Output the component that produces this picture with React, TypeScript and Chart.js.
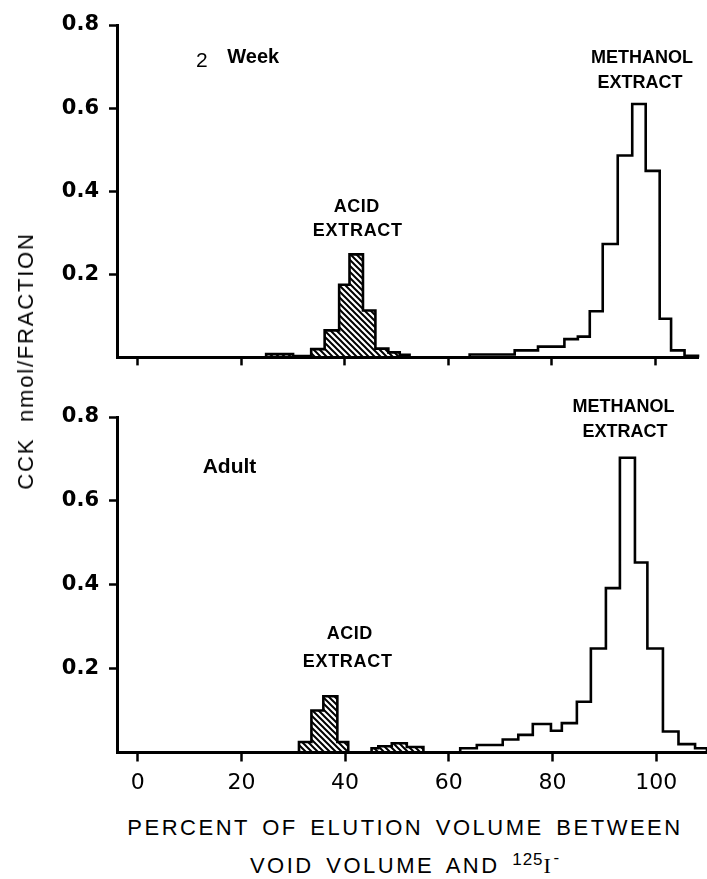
import React, { useEffect, useRef } from 'react';
import { Chart, registerables } from 'chart.js';

Chart.register(...registerables);

// ---------- data ----------
const X_TICKS = [0, 20, 40, 60, 80, 100];
const X_TICK_LABELS = ['0', '20', '40', '60', '80', '100'];
const Y_TICKS = [0.2, 0.4, 0.6, 0.8];
const Y_TICK_LABELS = ['0.2', '0.4', '0.6', '0.8'];

// 2 Week panel (bin edges in % elution volume, values in CCK nmol/fraction)
const WEEK2_ACID_EDGES = [24.8, 30.0, 33.5, 36.1, 38.9, 40.9, 43.5, 45.9, 48.4, 50.6, 52.5];
const WEEK2_ACID_VALUES = [0.008, 0.003, 0.02, 0.065, 0.175, 0.248, 0.113, 0.021, 0.012, 0.006];
const WEEK2_METHANOL_EDGES = [64.1, 72.8, 77.3, 82.4, 85.0, 87.3, 89.8, 92.7, 95.5, 98.1, 100.8, 103.0, 105.6, 108.2];
const WEEK2_METHANOL_VALUES = [0.007, 0.017, 0.026, 0.044, 0.05, 0.111, 0.273, 0.486, 0.61, 0.449, 0.093, 0.017, 0.004];

// Adult panel
const ADULT_ACID_EDGES = [31.1, 33.5, 35.8, 38.5, 40.6];
const ADULT_ACID_VALUES = [0.025, 0.1, 0.134, 0.025];
const ADULT_ACID2_EDGES = [45.1, 46.4, 49.0, 51.9, 55.1];
const ADULT_ACID2_VALUES = [0.01, 0.015, 0.022, 0.013];
const ADULT_METHANOL_EDGES = [62.2, 65.4, 70.4, 73.4, 76.2, 79.7, 81.8, 84.7, 87.4, 90.3, 93.0, 95.9, 98.3, 101.3, 104.3, 107.5, 109.8];
const ADULT_METHANOL_VALUES = [0.010, 0.018, 0.031, 0.042, 0.068, 0.052, 0.07, 0.121, 0.248, 0.392, 0.703, 0.453, 0.248, 0.05, 0.02, 0.01];

// annotation texts
const WEEK2_NOTES = [
  { text: '2', x: 12.4, y: 0.699, font: 'normal 21px "Liberation Sans"', spacing: 0 },
  { text: 'Week', x: 22.3, y: 0.708, font: 'bold 20px "Liberation Sans"', spacing: 0 },
  { text: 'ACID', x: 42.3, y: 0.35, font: 'bold 18px "Liberation Sans"', spacing: 0.5 },
  { text: 'EXTRACT', x: 42.5, y: 0.292, font: 'bold 18px "Liberation Sans"', spacing: 0.7 },
  { text: 'METHANOL', x: 97.4, y: 0.709, font: 'bold 18px "Liberation Sans"', spacing: 0 },
  { text: 'EXTRACT', x: 97.0, y: 0.649, font: 'bold 18px "Liberation Sans"', spacing: 0 },
];
const ADULT_NOTES = [
  { text: 'Adult', x: 17.7, y: 0.666, font: 'bold 21px "Liberation Sans"', spacing: 0 },
  { text: 'ACID', x: 40.9, y: 0.271, font: 'bold 18px "Liberation Sans"', spacing: 0.5 },
  { text: 'EXTRACT', x: 40.5, y: 0.204, font: 'bold 18px "Liberation Sans"', spacing: 0.7 },
  { text: 'METHANOL', x: 93.7, y: 0.812, font: 'bold 18px "Liberation Sans"', spacing: 0 },
  { text: 'EXTRACT', x: 94.0, y: 0.752, font: 'bold 18px "Liberation Sans"', spacing: 0 },
];

// ---------- helpers ----------
function histPoints(edges: number[], values: number[]) {
  const pts: { x: number; y: number }[] = [{ x: edges[0], y: 0 }];
  values.forEach((v, i) => {
    pts.push({ x: edges[i], y: v });
    pts.push({ x: edges[i + 1], y: v });
  });
  pts.push({ x: edges[edges.length - 1], y: 0 });
  return pts;
}

function makeHatch(): CanvasPattern | string {
  const s = 6;
  const c = document.createElement('canvas');
  c.width = s;
  c.height = s;
  const g = c.getContext('2d');
  if (!g) return '#888';
  g.strokeStyle = '#000';
  g.lineWidth = 2;
  g.beginPath();
  for (const k of [-1, 0, 1]) {
    g.moveTo(k * s - s, -s);
    g.lineTo(k * s + 2 * s, 2 * s);
  }
  g.stroke();
  const p = g.createPattern(c, 'repeat');
  return p || '#888';
}

function notesPlugin(notes: typeof WEEK2_NOTES) {
  return {
    id: 'notes',
    afterDraw(chart: any) {
      const ctx = chart.ctx;
      const xs = chart.scales.x;
      const ys = chart.scales.y;
      ctx.save();
      ctx.fillStyle = '#000';
      ctx.textAlign = 'center';
      ctx.textBaseline = 'alphabetic';
      for (const n of notes) {
        ctx.font = n.font;
        try { (ctx as any).letterSpacing = n.spacing + 'px'; } catch (e) { /* ignore */ }
        ctx.fillText(n.text, xs.getPixelForValue(n.x), ys.getPixelForValue(n.y));
      }
      ctx.restore();
    },
  };
}

function lineDs(pts: { x: number; y: number }[], fill: any) {
  return {
    data: pts,
    borderColor: '#000',
    borderWidth: 2.6,
    pointRadius: 0,
    tension: 0,
    fill: fill ? 'origin' : false,
    backgroundColor: fill || 'rgba(0,0,0,0)',
    clip: false,
  };
}

function buildConfig(opts: {
  datasets: any[];
  xMax: number;
  padRight: number;
  xAxisHeight: number;
  showXLabels: boolean;
  tickLen: number;
  notes: typeof WEEK2_NOTES;
}) {
  return {
    type: 'line',
    data: { datasets: opts.datasets },
    options: {
      responsive: false,
      animation: false,
      devicePixelRatio: 1,
      layout: { padding: { top: 25, right: opts.padRight, left: 0, bottom: 0 } },
      plugins: { legend: { display: false }, tooltip: { enabled: false } },
      scales: {
        x: {
          type: 'linear',
          min: -4,
          max: opts.xMax,
          afterBuildTicks: (s: any) => {
            s.ticks = X_TICKS.map((v) => ({ value: v }));
          },
          afterFit: (s: any) => {
            s.height = opts.xAxisHeight;
          },
          grid: {
            display: true,
            drawOnChartArea: false,
            drawTicks: true,
            tickLength: opts.tickLen,
            tickWidth: 2.5,
            tickColor: '#000',
            color: '#000',
          },
          border: { display: true, color: '#000', width: 3 },
          ticks: {
            display: opts.showXLabels,
            padding: 9,
            color: '#000',
            font: { family: '"DejaVu Sans"', size: 22, weight: 'normal' },
            callback: (_v: any, i: number) => X_TICK_LABELS[i],
          },
        },
        y: {
          type: 'linear',
          min: 0,
          max: 0.8,
          afterBuildTicks: (s: any) => {
            s.ticks = Y_TICKS.map((v) => ({ value: v }));
          },
          afterFit: (s: any) => {
            s.width = 117;
          },
          grid: {
            display: true,
            drawOnChartArea: false,
            drawTicks: true,
            tickLength: 8,
            tickWidth: 2.5,
            tickColor: '#000',
            color: '#000',
          },
          border: { display: true, color: '#000', width: 3 },
          ticks: {
            padding: 10,
            color: '#000',
            font: { family: '"DejaVu Sans"', size: 21, weight: 'bold' },
            callback: (_v: any, i: number) => Y_TICK_LABELS[i],
          },
        },
      },
    },
    plugins: [notesPlugin(opts.notes)],
  };
}

export default function App() {
  const topRef = useRef<HTMLCanvasElement>(null);
  const botRef = useRef<HTMLCanvasElement>(null);

  useEffect(() => {
    const hatch = makeHatch();
    const top = new Chart(
      topRef.current as HTMLCanvasElement,
      buildConfig({
        datasets: [
          lineDs(histPoints(WEEK2_ACID_EDGES, WEEK2_ACID_VALUES), hatch),
          lineDs(histPoints(WEEK2_METHANOL_EDGES, WEEK2_METHANOL_VALUES), null),
        ],
        xMax: 108.2,
        padRight: 9,
        xAxisHeight: 21,
        showXLabels: false,
        tickLen: 8,
        notes: WEEK2_NOTES,
      }) as any
    );
    const bot = new Chart(
      botRef.current as HTMLCanvasElement,
      buildConfig({
        datasets: [
          lineDs(histPoints(ADULT_ACID_EDGES, ADULT_ACID_VALUES), hatch),
          lineDs(histPoints(ADULT_ACID2_EDGES, ADULT_ACID2_VALUES), hatch),
          lineDs(histPoints(ADULT_METHANOL_EDGES, ADULT_METHANOL_VALUES), null),
        ],
        xMax: 109.8,
        padRight: 0,
        xAxisHeight: 49.5,
        showXLabels: true,
        tickLen: 9,
        notes: ADULT_NOTES,
      }) as any
    );
    return () => {
      top.destroy();
      bot.destroy();
    };
  }, []);

  const titleFont: React.CSSProperties = {
    fontFamily: '"Liberation Sans", Arial, sans-serif',
    fontSize: 22,
    color: '#000',
    letterSpacing: '2.5px',
    wordSpacing: '4px',
    whiteSpace: 'nowrap',
    lineHeight: '26px',
  };
  const supStyle: React.CSSProperties = {
    fontSize: 17,
    verticalAlign: 'baseline',
    position: 'relative',
    top: -8,
    letterSpacing: '1px',
  };

  return (
    <div style={{ position: 'absolute', left: 0, top: 0, width: 707, height: 879, background: '#fff', overflow: 'hidden' }}>
      <canvas ref={topRef} width={707} height={380} style={{ position: 'absolute', left: 0, top: 0, width: 707, height: 380 }} />
      <canvas ref={botRef} width={707} height={410} style={{ position: 'absolute', left: 0, top: 392, width: 707, height: 410 }} />
      <div
        style={{
          ...titleFont,
          fontSize: 22,
          letterSpacing: '1.8px',
          wordSpacing: '8px',
          lineHeight: 'normal',
          position: 'absolute',
          left: 26,
          top: 361,
          transform: 'translate(-50%, -50%) rotate(-90deg)',
        }}
      >
        CCK nmol/FRACTION
      </div>
      <div style={{ ...titleFont, position: 'absolute', left: 117, width: 576, top: 815, textAlign: 'center' }}>
        PERCENT OF ELUTION VOLUME BETWEEN
      </div>
      <div style={{ ...titleFont, position: 'absolute', left: 117, width: 576, top: 853, textAlign: 'center' }}>
        VOID VOLUME AND <span style={supStyle}>125</span>
        <span style={{ fontFamily: '"Liberation Serif", serif' }}>I</span>
        <span style={{ ...supStyle, top: -10 }}>-</span>
      </div>
    </div>
  );
}
